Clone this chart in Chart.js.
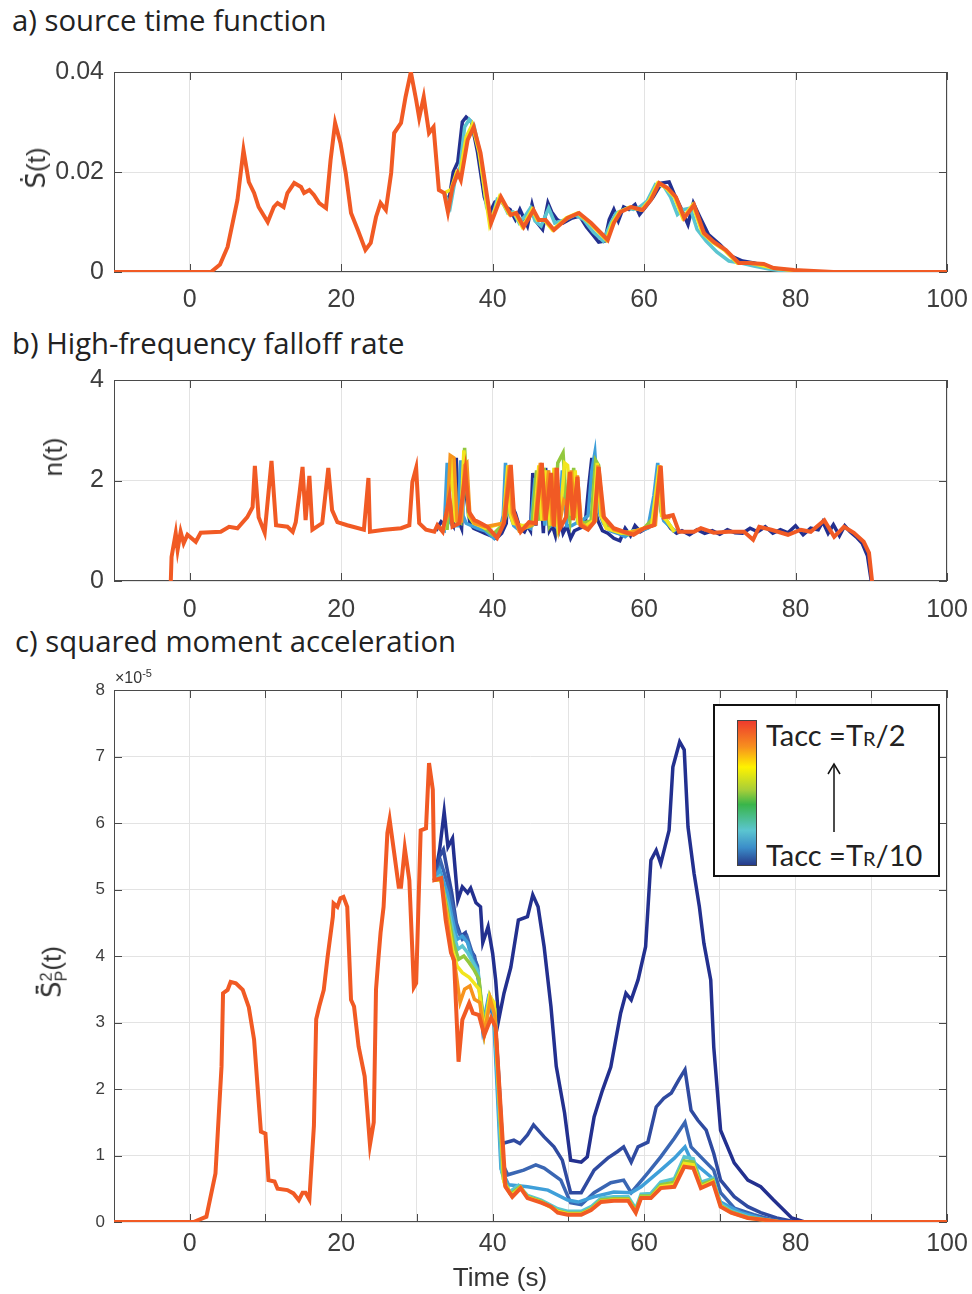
<!DOCTYPE html>
<html>
<head>
<meta charset="utf-8">
<script src="https://cdn.jsdelivr.net/npm/chart.js@4.4.1/dist/chart.umd.min.js"></script>
<style>
  body { margin: 0; background: #fff; }
  #page { position: relative; width: 972px; height: 1294px; overflow: hidden; font-family: 'Liberation Sans', Arial, sans-serif; color: #262626; }
  canvas { position: absolute; left: 0; }
  .title { position: absolute; font-family: 'Open Sans', Lato, sans-serif; font-size: 29.3px; color: #222; white-space: nowrap; line-height: 1; }
  .ylab { position: absolute; font-size: 26px; color: #333; white-space: nowrap; transform: translate(-50%, -50%) rotate(-90deg); line-height: 1; }
  .acc { font-family: 'DejaVu Sans', sans-serif; }
  .stack { display: inline-block; vertical-align: middle; font-size: 0.62em; line-height: 0.95; text-align: left; }
  .stack span { display: block; }
  #expo { position: absolute; left: 115px; top: 667px; font-size: 16px; color: #333; }
  #expo sup { font-size: 11px; }
  #legend { position: absolute; left: 713px; top: 704px; width: 223px; height: 169px; border: 2px solid #111; background: #fff; }
  #cbar { position: absolute; left: 22px; top: 14px; width: 18px; height: 144px; border: 1px solid #444;
    background: linear-gradient(to bottom, #ee3b2d 0%, #f7901e 18%, #fff200 32%, #a6ce39 48%, #39b54a 58%, #5bc5d0 76%, #3b8dc9 88%, #263a8a 100%); }
  .ltxt { position: absolute; left: 51px; font-family: Lato, 'Noto Sans', sans-serif; font-size: 29px; color: #222; white-space: nowrap; line-height: 1; }
  .ltxt small { font-size: 20px; }
  #xlab { position: absolute; left: 500px; top: 1277px; transform: translate(-50%, -50%); font-size: 26px; color: #333; }
</style>
</head>
<body>
<div id="page">
  <div class="title" style="left:12px; top:6px;">a) source time function</div>
  <div class="title" style="left:12px; top:329px;">b) High-frequency falloff rate</div>
  <div class="title" style="left:15px; top:627px;">c) squared moment acceleration</div>

  <canvas id="chartA" width="972" height="290" style="top:40px"></canvas>
  <canvas id="chartB" width="972" height="310" style="top:330px"></canvas>
  <canvas id="chartC" width="972" height="654" style="top:640px"></canvas>

  <div class="ylab" style="left:36px; top:168px;"><span class="acc">S&#775;&#772;</span>(t)</div>
  <div class="ylab" style="left:53px; top:457px;">n(t)</div>
  <div class="ylab" style="left:54px; top:972px;"><span class="acc">S&#776;&#772;</span><span class="stack"><span>2</span><span>P</span></span>(t)</div>
  <div id="expo">&times;10<sup>-5</sup></div>
  <div id="xlab">Time (s)</div>

  <div id="legend">
    <div id="cbar"></div>
    <div class="ltxt" style="top:14px;">Tacc =T<small>R</small>/2</div>
    <svg style="position:absolute; left:111px; top:56px;" width="16" height="72">
      <line x1="8" y1="70" x2="8" y2="4" stroke="#111" stroke-width="1.5"/>
      <path d="M2 12 L8 2 L14 12" fill="none" stroke="#111" stroke-width="1.5"/>
    </svg>
    <div class="ltxt" style="top:134px;">Tacc =T<small>R</small>/10</div>
  </div>
</div>

<script>
// tick positions
const xTicksAB = [-10, 0, 20, 40, 60, 80, 100];
const xTicksC = [-10, 0, 10, 20, 30, 40, 50, 60, 70, 80, 90, 100];
const yTicksA = [0, 0.02, 0.04];
const yTicksB = [0, 2, 4];
const yTicksC = [0, 1, 2, 3, 4, 5, 6, 7, 8];

// a) source time function, Tacc = TR/2 (full trace)
const aTimeOrange = [-10, 2.8, 4.0, 5.0, 6.3, 7.1, 7.8, 8.5, 9.1, 10.3, 11.1, 11.6, 12.4, 12.9, 13.8, 14.7, 15.1, 15.8, 16.4, 17.1, 18.0, 18.6, 19.2, 19.9, 20.6, 21.3, 22.2, 23.2, 23.9, 24.6, 25.2, 25.9, 26.6, 27.0, 27.9, 28.5, 29.2, 29.9, 30.3, 30.9, 31.6, 32.2, 32.9, 33.6, 34.1, 34.7, 35.4, 35.8, 36.7, 37.5, 38.4, 39.8, 41.1, 42.4, 43.1, 44.1, 45.4, 46.1, 47.0, 48.1, 49.9, 51.4, 53.0, 54.3, 55.2, 56.0, 56.9, 58.3, 59.8, 60.9, 62.0, 63.1, 64.2, 65.3, 66.6, 67.9, 69.2, 70.8, 72.5, 73.7, 75.8, 77.1, 79.8, 82.4, 85, 100];
const aRateOrange = [0, 0, 0.0015, 0.005, 0.0144, 0.0244, 0.018, 0.0158, 0.013, 0.010, 0.013, 0.0138, 0.013, 0.0158, 0.0178, 0.017, 0.0158, 0.0164, 0.0154, 0.0138, 0.0128, 0.0224, 0.0298, 0.0258, 0.0198, 0.0118, 0.0084, 0.0044, 0.0058, 0.011, 0.0138, 0.0124, 0.0198, 0.0278, 0.0298, 0.035, 0.040, 0.0344, 0.0308, 0.035, 0.0278, 0.029, 0.0164, 0.0158, 0.012, 0.017, 0.0198, 0.0184, 0.0264, 0.029, 0.0238, 0.0098, 0.015, 0.0114, 0.0118, 0.009, 0.0124, 0.0104, 0.0104, 0.0084, 0.0108, 0.0118, 0.0098, 0.0078, 0.0064, 0.0098, 0.012, 0.013, 0.0124, 0.0144, 0.0178, 0.0168, 0.015, 0.0108, 0.0134, 0.0078, 0.006, 0.0044, 0.0018, 0.0018, 0.0016, 0.0008, 0.0004, 0.0002, 0, 0];
// other Tacc values only where they leave the TR/2 trace
const aTimeYellow = [33.6, 34.5, 35.2, 35.6, 36.5, 37.3, 38.2, 39.6, 40.9, 42.2, 42.9, 43.9, 45.2, 45.9, 46.8, 47.9, 49.7, 51.2, 52.8, 54.1, 55.0, 55.8, 56.7, 58.1, 59.6, 60.7, 61.8, 62.9, 64.0, 65.1, 66.4, 67.7, 69.0, 70.6, 72.3, 74, 77, 80];
const aRateYellow = [0.0158, 0.0165, 0.0198, 0.019, 0.027, 0.0295, 0.024, 0.0095, 0.015, 0.0115, 0.0118, 0.009, 0.0125, 0.0104, 0.0104, 0.0084, 0.0108, 0.0118, 0.0098, 0.0078, 0.0064, 0.0098, 0.012, 0.013, 0.0124, 0.0144, 0.0178, 0.0168, 0.015, 0.0108, 0.0134, 0.0078, 0.006, 0.0044, 0.0018, 0.0018, 0.0008, 0.0002];
const aTimeCyan = [33.6, 34.4, 35.0, 35.7, 36.3, 36.9, 37.5, 38.3, 39.2, 39.9, 40.6, 41.3, 42.0, 42.7, 43.5, 44.3, 45.0, 45.6, 46.4, 47.4, 48.2, 49.5, 50.9, 52.0, 53.3, 54.6, 55.6, 56.3, 56.9, 57.8, 58.6, 59.4, 60.4, 61.5, 62.6, 63.5, 64.4, 65.2, 66.1, 67.0, 68.2, 69.6, 71.2, 72.8, 74.5, 76.5, 78.5, 81];
const aRateCyan = [0.0158, 0.013, 0.018, 0.021, 0.029, 0.0305, 0.0295, 0.024, 0.013, 0.0105, 0.0145, 0.014, 0.0118, 0.012, 0.0098, 0.0112, 0.0128, 0.0102, 0.0092, 0.0128, 0.0098, 0.0104, 0.0114, 0.0105, 0.008, 0.0062, 0.0098, 0.0118, 0.0122, 0.0128, 0.0125, 0.013, 0.0142, 0.0175, 0.0172, 0.015, 0.0115, 0.0125, 0.0128, 0.0085, 0.0062, 0.004, 0.0022, 0.0018, 0.0012, 0.0006, 0.0002, 0];
const aTimeBlue = [33.6, 34.2, 34.8, 35.4, 36.0, 36.5, 37.2, 38.0, 38.9, 39.6, 40.3, 41.0, 41.7, 42.3, 43.0, 43.6, 44.6, 45.2, 45.8, 46.6, 47.3, 47.8, 48.5, 49.3, 50.5, 51.5, 52.4, 53.2, 54.0, 54.8, 55.4, 56.0, 56.6, 57.3, 58.0, 58.8, 59.4, 60.2, 61.2, 62.3, 63.3, 64.0, 64.8, 65.8, 66.5, 67.3, 68.5, 70.0, 71.5, 73.0, 74.5, 76.0, 77.5, 79.0, 81];
const aRateBlue = [0.0158, 0.014, 0.020, 0.022, 0.030, 0.031, 0.030, 0.024, 0.015, 0.0118, 0.014, 0.0145, 0.013, 0.0125, 0.0105, 0.0125, 0.0092, 0.0135, 0.010, 0.0085, 0.0138, 0.012, 0.0105, 0.0098, 0.0108, 0.0112, 0.009, 0.0075, 0.006, 0.0062, 0.0105, 0.0125, 0.0102, 0.013, 0.0125, 0.0135, 0.0115, 0.013, 0.015, 0.0178, 0.018, 0.0155, 0.013, 0.0095, 0.0138, 0.0112, 0.0075, 0.0055, 0.0032, 0.0022, 0.0018, 0.0012, 0.0006, 0.0002, 0];

// b) high-frequency falloff rate n(t)
const bTimeOrange = [-2.5, -2.4, -1.85, -1.6, -1.2, -0.8, -0.3, 0.8, 1.45, 4.1, 5.2, 6.3, 7.6, 8.3, 8.6, 9.1, 9.9, 10.8, 11.4, 12.9, 13.6, 14.0, 14.5, 14.9, 15.3, 15.8, 16.2, 17.5, 18.3, 18.8, 19.5, 20.8, 23.0, 23.6, 23.8, 25.7, 27.9, 29.0, 29.4, 29.9, 30.3, 31.2, 32.3, 32.7, 33.4, 34.3, 34.7, 35.6, 36.4, 36.9, 37.6, 38.2, 39.3, 40.6, 41.5, 42.4, 42.8, 43.7, 44.8, 45.7, 46.5, 47.0, 47.7, 48.1, 48.5, 48.9, 49.7, 50.2, 50.6, 51.2, 51.6, 52.6, 53.4, 54.0, 54.7, 56.0, 57.3, 58.6, 60.0, 61.3, 62.2, 62.6, 63.8, 64.6, 66.6, 67.5, 69.2, 71.1, 73.2, 74.4, 75.2, 76.8, 79.0, 80.7, 82.0, 83.8, 85.1, 86.4, 87.7, 89.0, 89.7, 90.1];
const bFalloffOrange = [0, 0.48, 0.95, 0.62, 0.98, 0.75, 0.92, 0.78, 0.96, 0.98, 1.08, 1.05, 1.27, 1.47, 2.29, 1.27, 0.96, 2.39, 1.11, 1.08, 0.98, 1.17, 1.75, 2.27, 1.21, 2.09, 1.02, 1.15, 2.25, 1.41, 1.17, 1.11, 1.02, 2.05, 0.98, 1.02, 1.05, 1.11, 1.97, 2.25, 1.15, 1.02, 0.98, 1.11, 0.98, 1.67, 1.08, 1.15, 2.17, 1.37, 1.21, 1.17, 1.08, 0.86, 1.15, 2.31, 1.37, 0.98, 1.17, 1.15, 2.35, 1.21, 2.15, 1.08, 2.25, 1.05, 1.27, 2.17, 1.21, 2.07, 1.11, 1.02, 1.17, 2.27, 1.27, 1.05, 0.98, 0.92, 1.05, 1.11, 2.29, 1.27, 1.31, 0.98, 0.98, 1.05, 0.96, 0.98, 0.98, 0.82, 1.08, 1.02, 0.92, 1.02, 0.98, 1.21, 0.88, 1.08, 0.96, 0.78, 0.56, 0];
const bTimeLightOrange = [33.3, 34.0, 34.4, 34.9, 35.3, 35.9, 36.3, 36.6, 37.0, 37.6, 39.0, 41.4, 42.2, 42.6, 43.5, 45.6, 46.3, 46.8, 47.4, 47.9, 48.3, 48.8, 49.4, 49.9, 50.4, 50.8, 51.2, 51.7, 52.5, 53.6, 53.9, 54.5, 56, 58, 60, 61.5, 62.1, 62.5, 63.5];
const bFalloffLightOrange = [1.0, 1.3, 2.5, 2.45, 1.2, 1.2, 2.3, 2.35, 1.3, 1.15, 1.08, 1.15, 2.3, 1.35, 1.0, 1.15, 2.35, 1.2, 2.2, 1.1, 2.25, 1.1, 1.6, 1.5, 2.2, 1.25, 2.1, 1.15, 1.05, 1.2, 2.3, 1.3, 1.02, 0.95, 1.05, 1.12, 2.3, 1.3, 1.25];
const bTimeYellow = [33.5, 34.2, 34.6, 35.0, 35.8, 36.2, 36.5, 36.9, 37.5, 39, 41.4, 42.0, 42.3, 42.7, 44.0, 45.5, 46.1, 46.5, 47.0, 47.6, 48.1, 48.6, 49.0, 49.5, 49.9, 50.4, 50.9, 51.3, 52.3, 53.3, 53.8, 54.3, 55, 57, 59, 61, 62.0, 62.3, 63, 64];
const bFalloffYellow = [1.0, 1.6, 2.45, 1.2, 1.2, 2.6, 2.1, 1.3, 1.15, 1.05, 1.15, 2.3, 1.35, 1.15, 1.1, 1.15, 2.3, 1.2, 2.2, 1.1, 2.25, 1.1, 1.4, 2.35, 2.3, 1.3, 2.2, 1.15, 1.1, 1.2, 2.35, 1.3, 1.05, 0.95, 1.0, 1.1, 2.3, 1.3, 1.2, 0.98];
const bTimeGreen = [33.0, 34.0, 34.6, 35.2, 35.8, 36.3, 36.8, 37.5, 38.5, 40.0, 41.2, 41.8, 42.2, 42.8, 44.0, 45.2, 45.8, 46.2, 46.8, 47.5, 48.2, 48.6, 49.3, 49.7, 50.2, 50.7, 51.2, 52.0, 53.0, 53.6, 54.0, 54.6, 56, 58, 60, 61.5, 62.0, 62.4, 63.0, 64.0];
const bFalloffGreen = [1.05, 1.05, 2.4, 1.2, 1.15, 2.65, 1.3, 1.15, 1.1, 0.92, 1.1, 1.3, 2.3, 1.2, 1.05, 1.1, 2.2, 1.2, 2.25, 1.1, 1.3, 2.35, 2.55, 1.6, 1.2, 2.25, 1.2, 1.15, 1.2, 2.4, 2.3, 1.2, 1.0, 0.92, 1.05, 1.3, 2.3, 1.35, 1.2, 0.98];
const bTimeLightBlue = [32.8, 33.6, 34.0, 34.3, 34.7, 35.4, 35.8, 36.1, 36.5, 37.2, 38.0, 39.0, 40.2, 41.0, 41.4, 41.7, 42.1, 42.8, 43.6, 44.4, 45.0, 45.6, 45.9, 46.4, 46.9, 47.3, 47.7, 48.2, 48.7, 49.2, 49.8, 50.4, 51.0, 51.8, 52.6, 53.1, 53.5, 54.0, 54.6, 55.5, 56.5, 57.5, 58.5, 59.5, 60.5, 61.3, 61.8, 62.2, 62.6, 63.3, 64.2];
const bFalloffLightBlue = [1.05, 1.0, 2.35, 1.2, 1.1, 1.1, 2.4, 1.3, 1.15, 1.1, 1.05, 1.0, 0.85, 1.05, 1.3, 2.35, 1.4, 1.1, 1.0, 1.1, 1.05, 2.05, 1.2, 2.2, 1.1, 2.2, 1.1, 1.15, 1.0, 2.2, 1.1, 1.1, 1.15, 1.2, 1.3, 2.2, 2.55, 1.4, 1.15, 1.0, 0.95, 0.88, 1.0, 1.0, 1.05, 1.7, 2.35, 1.4, 1.2, 1.1, 0.98];
const bTimeBlue = [32.5, 33.2, 33.8, 34.1, 34.4, 34.8, 35.2, 35.5, 35.9, 36.2, 36.6, 37.0, 37.5, 38.2, 39.0, 39.8, 40.5, 41.2, 41.8, 42.1, 42.5, 43.0, 43.6, 44.2, 44.6, 45.0, 45.3, 45.7, 46.2, 46.7, 47.0, 47.5, 47.9, 48.3, 48.8, 49.3, 49.8, 50.3, 50.8, 51.5, 52.2, 52.7, 53.1, 53.4, 53.9, 54.5, 55.2, 56.0, 56.8, 57.5, 58.2, 58.8, 59.5, 60.3, 61.0, 61.5, 61.9, 62.3, 62.8, 63.5, 64.3, 65.0, 66.0, 67.0, 68.0, 69.0, 70.0, 71.0, 72.0, 73.0, 74.0, 75.0, 76.0, 77.0, 78.0, 79.0, 80.0, 81.0, 82.0, 83.0, 83.6, 84.3, 85.0, 85.8, 86.5, 87.2, 88.0, 88.8, 89.5, 90.0];
const bFalloffBlue = [1.0, 1.18, 1.1, 2.3, 1.2, 1.1, 2.45, 1.2, 1.05, 2.1, 1.6, 1.15, 1.05, 1.0, 0.95, 0.9, 0.85, 0.95, 1.15, 2.2, 1.5, 1.35, 1.05, 0.98, 1.1, 1.0, 2.15, 1.1, 2.2, 0.95, 2.25, 1.0, 1.1, 0.9, 1.3, 0.95, 1.1, 0.85, 1.0, 1.05, 1.1, 1.9, 2.45, 1.5, 1.2, 1.0, 0.95, 0.85, 0.8, 1.05, 0.9, 1.1, 0.98, 1.05, 1.1, 1.6, 2.2, 1.4, 1.2, 1.05, 0.95, 1.0, 0.92, 1.02, 0.95, 1.0, 0.93, 1.02, 0.96, 0.95, 1.05, 0.98, 1.08, 0.95, 1.02, 0.96, 1.1, 0.92, 1.05, 1.02, 1.18, 0.95, 1.12, 0.9, 1.1, 0.98, 0.88, 0.75, 0.5, 0];

// c) squared moment acceleration (x1e-5)
const cTimeOrange = [-10, 0.5, 2.2, 3.4, 4.2, 4.4, 5.0, 5.4, 6.1, 7.0, 7.8, 8.5, 9.4, 10.0, 10.4, 11.2, 11.6, 12.9, 13.7, 14.4, 14.9, 15.3, 15.8, 16.4, 16.7, 17.1, 17.7, 18.2, 18.9, 19.0, 19.5, 19.9, 20.3, 20.8, 21.3, 21.7, 22.3, 23.1, 23.8, 24.3, 24.6, 24.9, 25.2, 25.6, 26.1, 26.4, 27.0, 27.6, 27.9, 28.4, 29.0, 29.6, 29.9, 30.5, 31.2, 31.6, 32.1, 32.3, 33.2, 33.8, 34.5, 34.9, 35.5, 36.0, 36.9, 37.4, 38.2, 38.9, 39.8, 40.4, 41.1, 41.7, 42.6, 43.7, 44.6, 46.4, 47.7, 48.6, 49.9, 51.7, 53.0, 54.3, 56.0, 57.9, 58.9, 59.6, 60.9, 62.2, 64.0, 65.3, 66.5, 67.5, 69.1, 70.1, 71.5, 73.7, 76, 78, 100];
const cAccOrange = [0, 0, 0.08, 0.73, 2.34, 3.44, 3.49, 3.61, 3.59, 3.49, 3.23, 2.74, 1.36, 1.33, 0.63, 0.61, 0.5, 0.48, 0.43, 0.33, 0.44, 0.44, 0.34, 1.45, 3.05, 3.24, 3.49, 3.98, 4.59, 4.79, 4.74, 4.87, 4.89, 4.74, 3.34, 3.24, 2.64, 2.19, 1.16, 1.5, 3.5, 3.94, 4.35, 4.74, 5.85, 6.05, 5.55, 5.04, 5.04, 5.62, 5.14, 3.53, 3.59, 5.89, 5.92, 6.9, 6.5, 5.14, 5.17, 4.54, 4.05, 3.94, 2.41, 3.04, 3.29, 3.14, 3.11, 2.81, 3.07, 2.93, 1.64, 0.53, 0.38, 0.51, 0.36, 0.29, 0.23, 0.14, 0.11, 0.11, 0.18, 0.3, 0.32, 0.32, 0.14, 0.36, 0.36, 0.51, 0.53, 0.83, 0.81, 0.51, 0.59, 0.23, 0.14, 0.06, 0.03, 0, 0];
const cTimeLightOrange = [32.3, 33.2, 34.0, 34.6, 35.1, 35.7, 36.3, 37.0, 37.6, 38.3, 38.9, 39.7, 40.3, 40.9, 41.6, 42.6, 43.7];
const cAccLightOrange = [5.14, 5.16, 4.55, 4.05, 3.8, 3.3, 3.5, 3.55, 3.35, 3.3, 2.83, 3.35, 3.1, 1.8, 0.55, 0.38, 0.51];
const cTimeYellow = [32.3, 33.2, 34.0, 34.7, 35.3, 36.0, 36.9, 37.5, 38.2, 38.9, 39.6, 40.2, 40.8, 41.5, 42.5, 43.7, 44.6, 46.4, 48.6, 50, 51.7, 53.0, 54.3, 56, 57.9, 58.9, 59.6, 60.9, 62.2, 64.0, 65.3, 66.5, 67.5, 69.1, 70.1, 71.5, 73.7, 78];
const cAccYellow = [5.14, 5.15, 4.6, 4.1, 3.85, 3.75, 3.68, 3.6, 3.5, 2.85, 3.4, 3.3, 2.0, 0.6, 0.4, 0.52, 0.37, 0.3, 0.16, 0.12, 0.12, 0.19, 0.31, 0.33, 0.33, 0.15, 0.37, 0.37, 0.53, 0.56, 0.88, 0.86, 0.53, 0.61, 0.24, 0.14, 0.06, 0];
const cTimeGreen = [32.3, 33.2, 34.0, 34.8, 35.5, 36.2, 36.9, 37.5, 38.2, 38.9, 39.6, 40.3, 40.8, 41.4, 42.4, 43.6, 44.6, 46.4, 48.6, 50, 51.7, 53.0, 54.3, 56.0, 57.9, 58.9, 59.6, 60.9, 62.2, 64.0, 65.3, 66.5, 67.5, 69.1, 70.1, 71.5, 73.7, 78];
const cAccGreen = [5.14, 5.15, 4.7, 4.2, 3.95, 4.0, 3.9, 3.8, 3.65, 2.9, 3.4, 3.2, 2.0, 0.65, 0.42, 0.53, 0.38, 0.31, 0.17, 0.13, 0.13, 0.2, 0.33, 0.35, 0.35, 0.17, 0.39, 0.39, 0.56, 0.6, 0.92, 0.9, 0.56, 0.63, 0.25, 0.15, 0.07, 0];
const cTimeCyan = [32.3, 33.0, 34.0, 34.7, 35.4, 36.0, 36.7, 37.4, 38.1, 38.8, 39.5, 40.2, 40.7, 41.2, 42.2, 43.4, 44.6, 46.4, 48.6, 50.0, 51.7, 53.0, 54.3, 56.0, 57.9, 58.9, 59.6, 60.9, 62.2, 64.0, 65.3, 66.5, 67.5, 69.1, 70.1, 71.5, 73.7, 76, 78];
const cAccCyan = [5.14, 5.2, 4.8, 4.4, 4.1, 4.15, 4.05, 3.9, 3.75, 2.9, 3.35, 3.2, 2.0, 0.75, 0.45, 0.55, 0.4, 0.33, 0.2, 0.16, 0.16, 0.23, 0.36, 0.38, 0.38, 0.2, 0.42, 0.43, 0.6, 0.65, 0.98, 0.95, 0.6, 0.66, 0.27, 0.17, 0.08, 0.03, 0];
const cTimeLightBlue = [32.3, 33.0, 34.0, 34.6, 35.3, 36.0, 36.7, 37.3, 38.0, 38.7, 39.4, 40.1, 40.6, 41.1, 42.1, 44.6, 47.3, 49.9, 51.3, 53.4, 56.0, 58.3, 59.6, 62.2, 64.0, 65.4, 66.2, 68.8, 70.1, 72.8, 76, 78];
const cAccLightBlue = [5.14, 5.3, 4.95, 4.6, 4.25, 4.3, 4.2, 3.95, 3.8, 2.95, 3.35, 3.15, 2.0, 0.8, 0.56, 0.53, 0.48, 0.33, 0.3, 0.38, 0.45, 0.44, 0.53, 0.78, 0.96, 1.13, 0.93, 0.68, 0.3, 0.14, 0.04, 0];
const cTimeBlue3 = [32.3, 33.2, 34.0, 34.6, 35.3, 36.0, 36.6, 37.3, 38.0, 38.7, 39.5, 40.2, 40.7, 41.2, 42.0, 44.1, 45.7, 46.8, 49.0, 50.3, 51.7, 53.4, 55.6, 57.3, 58.3, 60.5, 62.2, 64.0, 65.4, 66.2, 67.9, 69.2, 70.1, 71.9, 74.5, 77, 79];
const cAccBlue3 = [5.14, 5.4, 5.1, 4.8, 4.4, 4.25, 4.3, 4.05, 3.85, 2.9, 3.3, 3.05, 2.0, 0.9, 0.71, 0.78, 0.86, 0.81, 0.63, 0.29, 0.26, 0.44, 0.59, 0.63, 0.44, 0.74, 0.98, 1.26, 1.5, 1.13, 0.93, 0.78, 0.44, 0.21, 0.11, 0.03, 0];
const cTimeBlue2 = [32.3, 33.0, 33.5, 34.0, 34.6, 35.2, 35.8, 36.4, 37.0, 37.6, 38.2, 38.9, 39.6, 40.3, 40.8, 41.3, 42.8, 43.6, 44.6, 45.4, 46.8, 48.1, 49.2, 50.3, 51.7, 53.4, 55.2, 56.5, 57.3, 58.3, 59.2, 60.5, 61.6, 62.6, 63.6, 64.6, 65.4, 66.2, 67.1, 68.2, 69.2, 70.1, 71.9, 73.7, 75.4, 77.5, 80];
const cAccBlue2 = [5.14, 5.5, 5.6, 5.3, 4.95, 4.5, 4.3, 4.35, 4.1, 4.0, 3.6, 2.85, 3.3, 3.1, 2.2, 1.18, 1.23, 1.18, 1.31, 1.46, 1.28, 1.13, 0.93, 0.44, 0.44, 0.78, 0.96, 1.06, 1.13, 0.9, 1.13, 1.2, 1.73, 1.86, 1.94, 2.14, 2.29, 1.68, 1.53, 1.38, 1.03, 0.63, 0.38, 0.23, 0.14, 0.06, 0];
const cTimeBlue = [32.3, 33.0, 33.6, 34.1, 34.7, 35.4, 36.0, 36.7, 37.1, 37.8, 38.4, 38.7, 39.4, 40.0, 40.4, 40.8, 41.5, 42.4, 43.4, 44.6, 45.3, 46.0, 46.8, 47.7, 48.4, 49.5, 50.3, 51.7, 52.5, 53.4, 54.5, 55.6, 56.9, 57.6, 58.3, 59.2, 60.2, 60.9, 61.6, 62.2, 63.3, 63.8, 64.7, 65.3, 65.8, 66.6, 67.3, 67.9, 68.8, 69.2, 70.1, 71.9, 73.7, 75.4, 77.1, 79.5, 81.2];
const cAccBlue = [5.14, 5.6, 6.17, 5.64, 5.77, 4.84, 5.04, 4.95, 5.02, 4.8, 4.74, 4.2, 4.44, 4.04, 3.64, 3.04, 3.44, 3.83, 4.54, 4.59, 4.92, 4.74, 4.14, 3.24, 2.34, 1.64, 0.93, 0.9, 0.98, 1.58, 1.98, 2.33, 3.14, 3.44, 3.34, 3.64, 4.14, 5.44, 5.59, 5.39, 5.89, 6.84, 7.22, 7.1, 5.94, 5.24, 4.74, 4.19, 3.64, 2.63, 1.38, 0.89, 0.63, 0.53, 0.33, 0.06, 0];

const colOrange = '#f15a24';
const colLightOrange = '#f7941d';
const colYellow = '#f2e51d';
const colGreen = '#93c83e';
const colCyan = '#5bc5d0';
const colLightBlue = '#3f9fd9';
const colBlue3 = '#3a66b3';
const colBlue2 = '#2f4aa0';
const colBlue = '#23308f';

function pts(times, values) {
    return times.map((t, i) => ({ x: t, y: values[i] }));
}

function line(times, values, color, width) {
    return {
        data: pts(times, values),
        borderColor: color,
        borderWidth: width || 3.5,
        pointRadius: 0,
        tension: 0,
        fill: false
    };
}

// box and inward tick marks like the original figure
const frame = {
    id: 'frame',
    beforeDatasetsDraw(chart) {
        const { ctx, chartArea: a, scales: { x, y } } = chart;
        ctx.save();
        ctx.strokeStyle = '#4a4a4a';
        ctx.lineWidth = 1;
        ctx.strokeRect(a.left + 0.5, a.top + 0.5, a.right - a.left - 1, a.bottom - a.top - 1);
        ctx.beginPath();
        x.ticks.forEach(t => {
            const px = Math.round(x.getPixelForValue(t.value)) + 0.5;
            ctx.moveTo(px, a.bottom); ctx.lineTo(px, a.bottom - 8);
            ctx.moveTo(px, a.top); ctx.lineTo(px, a.top + 8);
        });
        y.ticks.forEach(t => {
            const py = Math.round(y.getPixelForValue(t.value)) + 0.5;
            ctx.moveTo(a.left, py); ctx.lineTo(a.left + 8, py);
            ctx.moveTo(a.right, py); ctx.lineTo(a.right - 8, py);
        });
        ctx.stroke();
        ctx.restore();
    }
};

function panelOptions(cfg) {
    return {
        responsive: false,
        animation: false,
        layout: { padding: { top: cfg.top, right: 25, left: 0, bottom: 0 } },
        plugins: { legend: { display: false }, tooltip: { enabled: false } },
        scales: {
            x: {
                type: 'linear',
                min: -10,
                max: 100,
                afterBuildTicks: s => { s.ticks = cfg.xTicks.map(v => ({ value: v })); },
                afterFit: s => { s.height = cfg.xHeight; s.paddingLeft = 0; s.paddingRight = 0; },
                grid: { color: '#e3e3e3', drawTicks: false },
                border: { display: false },
                ticks: {
                    padding: cfg.xPad,
                    maxRotation: 0,
                    autoSkip: false,
                    color: '#3d3d3d',
                    font: { family: 'Liberation Sans', size: 25 },
                    callback: v => (v >= 0 && v % 20 === 0) ? String(v) : ''
                }
            },
            y: {
                type: 'linear',
                min: cfg.yTicks[0],
                max: cfg.yTicks[cfg.yTicks.length - 1],
                afterBuildTicks: s => { s.ticks = cfg.yTicks.map(v => ({ value: v })); },
                afterFit: s => { s.width = 114; },
                grid: { color: '#e3e3e3', drawTicks: false },
                border: { display: false },
                ticks: {
                    padding: cfg.yPad,
                    autoSkip: false,
                    color: '#3d3d3d',
                    font: { family: 'Liberation Sans', size: cfg.yFont },
                    callback: cfg.yFormat
                }
            }
        }
    };
}

document.addEventListener('DOMContentLoaded', () => {
    new Chart(document.getElementById('chartA'), {
        type: 'line',
        data: { datasets: [
            line(aTimeOrange, aRateOrange, colOrange, 4),
            line(aTimeYellow, aRateYellow, colYellow),
            line(aTimeCyan, aRateCyan, colCyan),
            line(aTimeBlue, aRateBlue, colBlue)
        ]},
        options: panelOptions({ top: 32, xHeight: 58, xPad: 13, xTicks: xTicksAB, yTicks: yTicksA, yPad: 10, yFont: 25,
            yFormat: v => v === 0 ? '0' : v.toFixed(2) }),
        plugins: [frame]
    });

    new Chart(document.getElementById('chartB'), {
        type: 'line',
        data: { datasets: [
            line(bTimeOrange, bFalloffOrange, colOrange, 4),
            line(bTimeLightOrange, bFalloffLightOrange, colLightOrange),
            line(bTimeYellow, bFalloffYellow, colYellow),
            line(bTimeGreen, bFalloffGreen, colGreen),
            line(bTimeLightBlue, bFalloffLightBlue, colLightBlue),
            line(bTimeBlue, bFalloffBlue, colBlue)
        ]},
        options: panelOptions({ top: 50, xHeight: 59, xPad: 14, xTicks: xTicksAB, yTicks: yTicksB, yPad: 10, yFont: 25,
            yFormat: v => String(v) }),
        plugins: [frame]
    });

    new Chart(document.getElementById('chartC'), {
        type: 'line',
        data: { datasets: [
            line(cTimeOrange, cAccOrange, colOrange, 4),
            line(cTimeLightOrange, cAccLightOrange, colLightOrange),
            line(cTimeYellow, cAccYellow, colYellow),
            line(cTimeGreen, cAccGreen, colGreen),
            line(cTimeCyan, cAccCyan, colCyan),
            line(cTimeLightBlue, cAccLightBlue, colLightBlue),
            line(cTimeBlue3, cAccBlue3, colBlue3),
            line(cTimeBlue2, cAccBlue2, colBlue2),
            line(cTimeBlue, cAccBlue, colBlue)
        ]},
        options: panelOptions({ top: 50, xHeight: 72, xPad: 7, xTicks: xTicksC, yTicks: yTicksC, yPad: 9, yFont: 17,
            yFormat: v => String(v) }),
        plugins: [frame]
    });
});
</script>
</body>
</html>
